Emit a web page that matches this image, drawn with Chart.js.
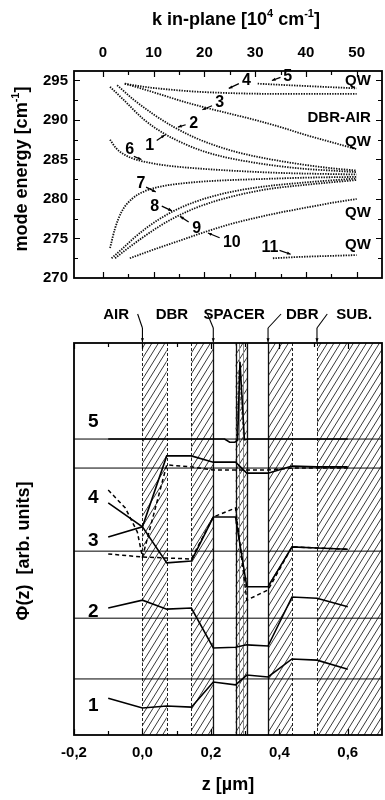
<!DOCTYPE html>
<html>
<head>
<meta charset="utf-8">
<script src="https://cdn.jsdelivr.net/npm/chart.js@4.4.1/dist/chart.umd.min.js"></script>
<style>
  html, body { margin: 0; padding: 0; background: #fff; }
  #wrap { position: relative; width: 385px; height: 800px; }
  canvas { position: absolute; left: 0; }
  #dispersion { top: 0; }
  #profiles { top: 300px; }
</style>
</head>
<body>
<div id="wrap">
  <canvas id="dispersion" width="385" height="300"></canvas>
  <canvas id="profiles" width="385" height="500"></canvas>
</div>
<script>
var FONT = '"Liberation Sans", Arial, Helvetica, sans-serif';

/* ---------- upper panel: mode energies vs in-plane k ---------- */
var kTicks = [0, 10, 20, 30, 40, 50];
var kMinorTicks = [5, 15, 25, 35, 45];
var energyTicks = [275, 280, 285, 290, 295];
var energyMinorTicks = [272.5, 277.5, 282.5, 287.5, 292.5];

var k1 = [1.4, 4, 8, 12, 16, 20, 24, 28, 33, 40, 45, 50];
var e1 = [294.2, 292.6, 290.1, 288.3, 287.0, 286.0, 285.3, 284.8, 284.3, 283.8, 283.6, 283.4];
var k2 = [2.8, 6, 10, 14, 18, 22, 26, 30, 35, 40, 45, 50];
var e2 = [294.4, 292.6, 290.7, 289.1, 287.8, 286.8, 286.0, 285.4, 284.8, 284.3, 283.9, 283.6];
var k3 = [4.3, 8, 12, 16, 20, 25, 30, 35, 40, 45, 50];
var e3 = [294.6, 293.9, 293.1, 292.3, 291.6, 290.8, 290.0, 289.1, 288.1, 287.2, 286.3];
var k4 = [4.3, 7, 10, 14, 18, 23, 28, 35, 42, 50];
var e4 = [294.6, 294.3, 294.05, 293.8, 293.6, 293.45, 293.35, 293.3, 293.3, 293.3];
var k5 = [30.5, 35, 40, 45, 50];
var e5 = [294.6, 294.45, 294.3, 294.15, 294.0];
var k6 = [1.4, 2.5, 4, 6, 9, 13, 18, 25, 35, 50];
var e6 = [287.5, 286.5, 285.7, 285.1, 284.6, 284.2, 283.9, 283.6, 283.3, 283.1];
var k7 = [1.4, 2.4, 3.7, 5.7, 8.3, 11.6, 16, 22, 30, 40, 50];
var e7 = [273.8, 276.3, 278.4, 280.0, 281.0, 281.6, 282.0, 282.3, 282.5, 282.7, 282.8];
var k8 = [1.7, 4, 6, 8.5, 11, 14, 18, 22, 26, 32, 40, 50];
var e8 = [272.5, 273.8, 275.0, 276.3, 277.4, 278.5, 279.6, 280.4, 281.0, 281.6, 282.1, 282.6];
var k9 = [2.4, 5, 8, 11, 14, 18, 22, 26, 32, 40, 50];
var e9 = [272.5, 273.8, 275.2, 276.5, 277.6, 278.8, 279.7, 280.4, 281.2, 281.8, 282.4];
var k10 = [5.3, 10, 15, 20, 25, 30, 35, 40, 45, 50];
var e10 = [272.5, 273.6, 274.7, 275.8, 276.8, 277.6, 278.3, 278.9, 279.5, 280.0];
var k11 = [33.5, 40, 45, 50];
var e11 = [272.5, 272.7, 272.8, 272.9];

// number, text position (k, E), leader from (k, E) to (k, E)
var branchLabels = [
  ['1', 9.2, 286.8, 10.6, 287.4, 12.2, 288.1],
  ['2', 17.9, 289.6, 16.3, 289.4, 14.8, 289.1],
  ['3', 23.0, 292.2, 21.5, 291.8, 19.6, 291.3],
  ['4', 28.3, 295.0, 26.8, 294.6, 24.8, 294.0],
  ['5', 36.4, 295.5, 35.0, 295.4, 33.3, 295.0],
  ['6', 5.3, 286.2, 6.1, 285.4, 7.6, 285.0],
  ['7', 7.5, 282.0, 8.5, 281.5, 10.4, 280.9],
  ['8', 10.2, 279.1, 11.6, 279.1, 13.6, 278.5],
  ['9', 18.5, 276.3, 16.9, 277.1, 15.2, 277.8],
  ['10', 25.4, 274.5, 23.0, 275.1, 20.7, 275.7],
  ['11', 32.9, 273.9, 34.8, 273.5, 37.0, 273.0]
];
var sideLabels = ['QW', 'DBR-AIR', 'QW', 'QW', 'QW'];
var sideLabelE = [295.0, 290.3, 287.2, 278.2, 274.2];

/* ---------- lower panel: mode profiles across the layer stack ---------- */
var zTicks = [-0.2, 0.0, 0.2, 0.4, 0.6];
var zMinorTicks = [-0.1, 0.1, 0.3, 0.5];
var layerStart = [0.0, 0.143, 0.272, 0.367, 0.51];
var layerEnd = [0.071, 0.207, 0.305, 0.437, 0.7];
var dashedEdges = [0.0, 0.071, 0.143, 0.437, 0.51];
var solidEdges = [0.207, 0.272, 0.305, 0.367];
var wellEdges = [0.283, 0.293];
var layerNames = ['AIR', 'DBR', 'SPACER', 'DBR', 'SUB.'];
var layerNameZ = [-0.077, 0.086, 0.268, 0.467, 0.619];
var pointerZ = [0.0, 0.207, 0.367, 0.51];
var pointerFromZ = [-0.014, 0.19, 0.405, 0.54];

var zNodes = [-0.1, 0.0, 0.071, 0.143, 0.207, 0.272, 0.305, 0.367, 0.437, 0.51, 0.6];
var phi1 = [9.4, 6.9, 7.4, 7.1, 13.5, 12.8, 15.3, 14.8, 19.4, 19.1, 16.8];
var phi2 = [32.4, 34.4, 32.1, 32.4, 22.2, 22.4, 23.0, 22.7, 35.2, 34.9, 32.7];
var phi3 = [50.5, 53.1, 71.2, 71.2, 69.6, 69.6, 66.8, 66.8, 68.6, 68.4, 68.4];
var phi4 = [59.2, 53.1, 43.9, 44.4, 55.6, 55.6, 37.8, 37.8, 48.0, 47.7, 47.4];
var zMode5 = [-0.1, 0.24, 0.255, 0.27, 0.278, 0.285, 0.298, 0.31, 0.6];
var phi5 = [75.5, 75.5, 74.7, 74.7, 75.2, 95.2, 75.3, 75.5, 75.5];
var zGhost5 = [0.276, 0.281, 0.296];
var phiGhost5 = [75.5, 93.0, 75.5];
var zDashA = [-0.1, -0.05, -0.015, 0.0, 0.071, 0.143, 0.207, 0.272, 0.305, 0.367, 0.437, 0.51, 0.6];
var phiDashA = [62.5, 57.9, 51.8, 45.4, 68.9, 68.4, 67.6, 67.6, 67.6, 67.6, 68.1, 68.1, 68.1];
var zDashB = [-0.1, 0.0, 0.143, 0.207, 0.272, 0.305, 0.367, 0.437, 0.51, 0.6];
var phiDashB = [46.2, 45.4, 44.9, 55.6, 57.9, 34.4, 37.0, 48.0, 47.7, 47.4];
var modeBaselines = [14.3, 29.8, 46.9, 68.1, 75.5];
var modeNames = ['1', '2', '3', '4', '5'];
var modeNameY = [7.4, 31.4, 49.5, 60.5, 79.8];
var modeNameZ = -0.144;

function pts(xs, ys) {
  return xs.map(function (x, i) { return { x: x, y: ys[i] }; });
}

function font(size) {
  return 'bold ' + size + 'px ' + FONT;
}

// text with superscript pieces, centred on (x, y)
function richText(ctx, parts, x, y, size, vertical) {
  ctx.save();
  ctx.translate(x, y);
  if (vertical) ctx.rotate(-Math.PI / 2);
  var widths = parts.map(function (p) {
    ctx.font = font(p[1] ? Math.round(size * 0.62) : size);
    return ctx.measureText(p[0]).width;
  });
  var total = widths.reduce(function (a, b) { return a + b; }, 0);
  var cx = -total / 2;
  ctx.fillStyle = '#000';
  ctx.textAlign = 'left';
  ctx.textBaseline = 'middle';
  parts.forEach(function (p, i) {
    ctx.font = font(p[1] ? Math.round(size * 0.62) : size);
    ctx.fillText(p[0], cx, p[1] ? -size * 0.36 : 0);
    cx += widths[i];
  });
  ctx.restore();
}

function arrowLine(ctx, x0, y0, x1, y1, head) {
  ctx.beginPath();
  ctx.moveTo(x0, y0);
  ctx.lineTo(x1, y1);
  ctx.stroke();
  var a = Math.atan2(y1 - y0, x1 - x0);
  ctx.beginPath();
  ctx.moveTo(x1, y1);
  ctx.lineTo(x1 - head * Math.cos(a - 0.4), y1 - head * Math.sin(a - 0.4));
  ctx.lineTo(x1 - head * Math.cos(a + 0.4), y1 - head * Math.sin(a + 0.4));
  ctx.closePath();
  ctx.fill();
}

// frame plus inward tick marks
function frameAndTicks(ctx, area, xs, ys, xMajor, xMinor, yMajor, yMinor) {
  ctx.save();
  ctx.strokeStyle = '#000';
  ctx.lineWidth = 1.2;
  function xt(list, len) {
    list.forEach(function (v) {
      var p = Math.round(xs.getPixelForValue(v)) + 0.5;
      ctx.beginPath();
      ctx.moveTo(p, area.top); ctx.lineTo(p, area.top + len);
      ctx.moveTo(p, area.bottom); ctx.lineTo(p, area.bottom - len);
      ctx.stroke();
    });
  }
  function yt(list, len) {
    list.forEach(function (v) {
      var p = Math.round(ys.getPixelForValue(v)) + 0.5;
      ctx.beginPath();
      ctx.moveTo(area.left, p); ctx.lineTo(area.left + len, p);
      ctx.moveTo(area.right, p); ctx.lineTo(area.right - len, p);
      ctx.stroke();
    });
  }
  xt(xMajor, 6); xt(xMinor, 4);
  if (yMajor) { yt(yMajor, 6); yt(yMinor, 4); }
  ctx.lineWidth = 1.8;
  ctx.strokeRect(area.left, area.top, area.right - area.left, area.bottom - area.top);
  ctx.restore();
}

function fixedSize(dim, v) {
  return function (s) { s[dim] = v; };
}

var tickFont = { family: FONT, size: 15, weight: 'bold' };

/* ---- upper chart ---- */
var branches = [[k1, e1], [k2, e2], [k3, e3], [k4, e4], [k5, e5], [k6, e6],
                [k7, e7], [k8, e8], [k9, e9], [k10, e10], [k11, e11]];

var dispersionDecor = {
  id: 'dispersionDecor',
  afterDatasetsDraw: function (chart) {
    var ctx = chart.ctx, xs = chart.scales.x, ys = chart.scales.y, area = chart.chartArea;
    frameAndTicks(ctx, area, xs, ys, kTicks, kMinorTicks, energyTicks, energyMinorTicks);
    ctx.save();
    ctx.fillStyle = '#000';
    ctx.strokeStyle = '#000';
    ctx.lineWidth = 1.2;
    ctx.font = font(16);
    ctx.textAlign = 'center';
    ctx.textBaseline = 'middle';
    branchLabels.forEach(function (b) {
      ctx.fillText(b[0], xs.getPixelForValue(b[1]), ys.getPixelForValue(b[2]));
      arrowLine(ctx, xs.getPixelForValue(b[3]), ys.getPixelForValue(b[4]),
                xs.getPixelForValue(b[5]), ys.getPixelForValue(b[6]), 4);
    });
    ctx.font = font(15);
    ctx.textAlign = 'right';
    sideLabels.forEach(function (t, i) {
      ctx.fillText(t, xs.getPixelForValue(52.8), ys.getPixelForValue(sideLabelE[i]));
    });
    ctx.restore();
    richText(ctx, [['k in-plane [10', false], ['4', true], [' cm', false], ['-1', true], [']', false]],
             236, 20, 18, false);
    richText(ctx, [['mode energy [cm', false], ['-1', true], [']', false]], 22, 169, 18, true);
  }
};

new Chart(document.getElementById('dispersion'), {
  type: 'line',
  data: {
    datasets: branches.map(function (b) {
      return {
        data: pts(b[0], b[1]),
        borderColor: '#111',
        borderWidth: 1.8,
        borderDash: [1.4, 1.2],
        pointRadius: 0,
        cubicInterpolationMode: 'monotone',
        fill: false
      };
    })
  },
  options: {
    responsive: false,
    animation: false,
    layout: { padding: 0 },
    plugins: { legend: { display: false }, tooltip: { enabled: false } },
    scales: {
      x: {
        type: 'linear', position: 'top', min: -5.7, max: 55,
        afterBuildTicks: function (s) { s.ticks = kTicks.map(function (v) { return { value: v }; }); },
        afterFit: fixedSize('height', 71),
        grid: { display: false, drawTicks: false }, border: { display: false },
        ticks: { font: tickFont, color: '#000', padding: 9, maxRotation: 0 }
      },
      xb: {
        type: 'linear', position: 'bottom', min: -5.7, max: 55,
        afterFit: fixedSize('height', 22),
        grid: { display: false, drawTicks: false }, border: { display: false },
        ticks: { display: false }
      },
      y: {
        type: 'linear', position: 'left', min: 270, max: 296.2,
        afterBuildTicks: function (s) { s.ticks = [270].concat(energyTicks).map(function (v) { return { value: v }; }); },
        afterFit: fixedSize('width', 74),
        grid: { display: false, drawTicks: false }, border: { display: false },
        ticks: { font: tickFont, color: '#000', padding: 6 }
      },
      yr: {
        type: 'linear', position: 'right', min: 270, max: 296.2,
        afterFit: fixedSize('width', 3),
        grid: { display: false, drawTicks: false }, border: { display: false },
        ticks: { display: false }
      }
    }
  },
  plugins: [dispersionDecor]
});

/* ---- lower chart ---- */
function hatchBand(ctx, x0, x1, top, bottom) {
  var h = bottom - top, run = h * 0.62, gap = 6.5;
  ctx.save();
  ctx.beginPath();
  ctx.rect(x0, top, x1 - x0, h);
  ctx.clip();
  ctx.strokeStyle = '#222';
  ctx.lineWidth = 0.9;
  ctx.beginPath();
  for (var s = Math.floor((x0 - run) / gap) * gap; s < x1; s += gap) {
    ctx.moveTo(s, bottom);
    ctx.lineTo(s + run, top);
  }
  ctx.stroke();
  ctx.restore();
}

var profileDecor = {
  id: 'profileDecor',
  beforeDatasetsDraw: function (chart) {
    var ctx = chart.ctx, xs = chart.scales.x, area = chart.chartArea;
    layerStart.forEach(function (z0, i) {
      hatchBand(ctx, xs.getPixelForValue(z0), xs.getPixelForValue(layerEnd[i]), area.top, area.bottom);
    });
    ctx.save();
    function edge(z, dash, color, w) {
      var p = Math.round(xs.getPixelForValue(z)) + 0.5;
      ctx.setLineDash(dash);
      ctx.strokeStyle = color;
      ctx.lineWidth = w;
      ctx.beginPath();
      ctx.moveTo(p, area.top); ctx.lineTo(p, area.bottom);
      ctx.stroke();
    }
    dashedEdges.forEach(function (z) { edge(z, [3, 2], '#222', 1); });
    solidEdges.forEach(function (z) { edge(z, [], '#111', 1.3); });
    wellEdges.forEach(function (z) { edge(z, [], '#888', 1); });
    ctx.restore();
  },
  afterDatasetsDraw: function (chart) {
    var ctx = chart.ctx, xs = chart.scales.x, ys = chart.scales.y, area = chart.chartArea;
    frameAndTicks(ctx, area, xs, ys, zTicks, zMinorTicks, null, null);
    ctx.save();
    ctx.fillStyle = '#000';
    ctx.textAlign = 'center';
    ctx.textBaseline = 'middle';
    ctx.font = font(19);
    modeNames.forEach(function (t, i) {
      ctx.fillText(t, xs.getPixelForValue(modeNameZ), ys.getPixelForValue(modeNameY[i]));
    });
    ctx.font = font(15);
    layerNames.forEach(function (t, i) {
      ctx.fillText(t, xs.getPixelForValue(layerNameZ[i]), 15);
    });
    ctx.strokeStyle = '#000';
    ctx.lineWidth = 1.1;
    pointerZ.forEach(function (z, i) {
      var p = xs.getPixelForValue(z), f = xs.getPixelForValue(pointerFromZ[i]);
      ctx.beginPath();
      ctx.moveTo(f, 14);
      ctx.lineTo(p, 28);
      ctx.stroke();
      arrowLine(ctx, p, 28, p, area.top - 1, 4);
    });
    ctx.restore();
    richText(ctx, [['z [\u00b5m]', false]], 228, 485, 18, false);
    richText(ctx, [['\u03a6(z)  [arb. units]', false]], 24, 251, 18, true);
  }
};

var profileSets = [];
modeBaselines.forEach(function (b) {
  profileSets.push({ data: pts([-0.2, 0.7], [b, b]), borderColor: '#000', borderWidth: 1 });
});
[[zNodes, phi1], [zNodes, phi2], [zNodes, phi3], [zNodes, phi4], [zMode5, phi5]].forEach(function (m) {
  profileSets.push({ data: pts(m[0], m[1]), borderColor: '#000', borderWidth: 1.6 });
});
profileSets.push({ data: pts(zGhost5, phiGhost5), borderColor: '#777', borderWidth: 1.2, borderDash: [3, 2] });
profileSets.push({ data: pts(zDashA, phiDashA), borderColor: '#000', borderWidth: 1.5, borderDash: [4, 3] });
profileSets.push({ data: pts(zDashB, phiDashB), borderColor: '#000', borderWidth: 1.5, borderDash: [4, 3] });
profileSets.forEach(function (d) { d.pointRadius = 0; d.tension = 0; d.fill = false; });

new Chart(document.getElementById('profiles'), {
  type: 'line',
  data: { datasets: profileSets },
  options: {
    responsive: false,
    animation: false,
    layout: { padding: 0 },
    plugins: { legend: { display: false }, tooltip: { enabled: false } },
    scales: {
      x: {
        type: 'linear', position: 'bottom', min: -0.2, max: 0.7,
        afterBuildTicks: function (s) { s.ticks = zTicks.map(function (v) { return { value: v }; }); },
        afterFit: fixedSize('height', 65),
        grid: { display: false, drawTicks: false }, border: { display: false },
        ticks: {
          font: tickFont, color: '#000', padding: 9, maxRotation: 0,
          callback: function (v) { return v.toFixed(1).replace('.', ','); }
        }
      },
      xt: {
        type: 'linear', position: 'top', min: -0.2, max: 0.7,
        afterFit: fixedSize('height', 43),
        grid: { display: false, drawTicks: false }, border: { display: false },
        ticks: { display: false }
      },
      y: {
        type: 'linear', position: 'left', min: 0, max: 100,
        afterFit: fixedSize('width', 74),
        grid: { display: false, drawTicks: false }, border: { display: false },
        ticks: { display: false }
      },
      yr: {
        type: 'linear', position: 'right', min: 0, max: 100,
        afterFit: fixedSize('width', 3),
        grid: { display: false, drawTicks: false }, border: { display: false },
        ticks: { display: false }
      }
    }
  },
  plugins: [profileDecor]
});
</script>
</body>
</html>
